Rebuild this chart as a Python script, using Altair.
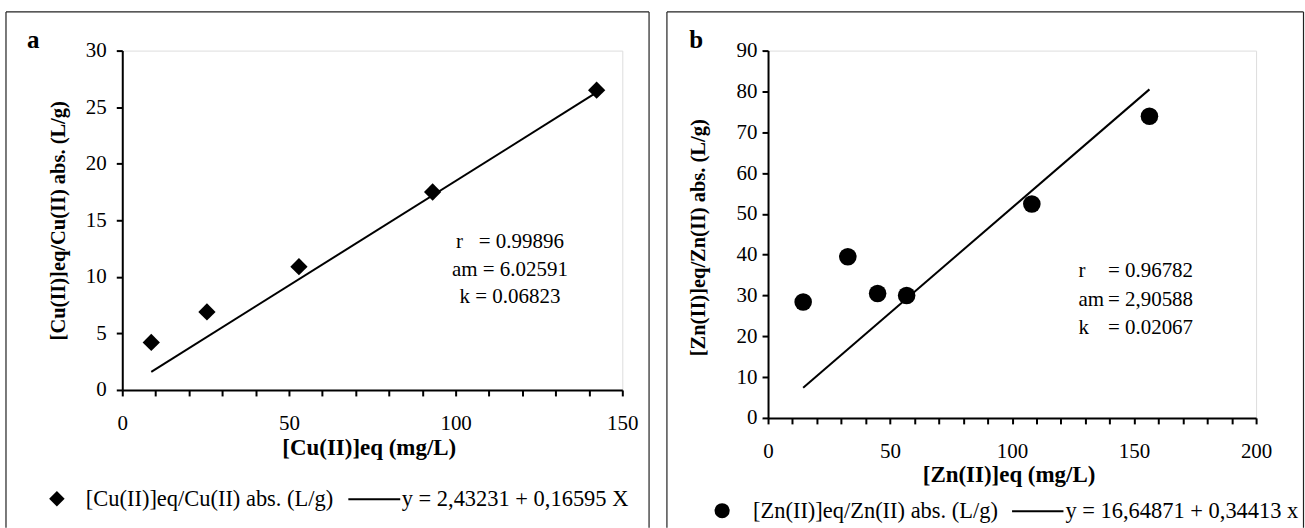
import altair as alt
import pandas as pd

FONT = "Liberation Serif"

# ---------------- data ----------------
# panel a : Cu(II)
cu_x = [8.7, 25.4, 53.0, 93.1, 142.3]
cu_y = [4.2, 6.9, 10.9, 17.5, 26.5]
cu_fit_x = [8.7, 142.3]
cu_fit_y = [1.6, 26.3]
cu_ann = ["r\u00a0\u00a0\u00a0= 0.99896", "am = 6.02591", "k = 0.06823"]
cu_ann_y = [13.05, 10.62, 8.2]

# panel b : Zn(II)
zn_x = [14.4, 32.7, 44.9, 56.8, 108.1, 156.3]
zn_y = [28.4, 39.5, 30.5, 30.0, 52.4, 73.9]
zn_fit_x = [14.4, 156.3]
zn_fit_y = [7.4, 80.5]
zn_ann_keys = ["r", "am", "k"]
zn_ann_vals = ["= 0.96782", "= 2,90588", "= 0.02067"]
zn_ann_y = [36.07, 28.98, 22.13]

cu_xticks = list(range(0, 151, 10))
cu_yticks = list(range(0, 31, 5))
zn_xticks = list(range(0, 201, 10))
zn_yticks = list(range(0, 91, 10))

one = pd.DataFrame({"k": [0]})


def axis_common(**kw):
    base = dict(
        grid=False, domainColor="black", domainWidth=2, tickColor="black",
        tickWidth=2, tickSize=6, labelFont=FONT, labelFontSize=21,
        labelColor="black", titleFont=FONT, titleFontSize=23,
        titleFontWeight="bold", titleColor="black", labelOverlap=False,
        labelFlush=False, labelBound=False,
    )
    base.update(kw)
    return alt.Axis(**base)


def deco(box, letter, letter_x, legend):
    """box = (x1, x2, y1, y2) relative to plot origin"""
    x1, x2, y1, y2 = box
    layers = []
    for (a, b, c, d) in [(x1, x1, y1, y2), (x2, x2, y1, y2), (x1, x2, y1, y1)]:
        layers.append(
            alt.Chart(one).mark_rule(color="#222222", strokeWidth=1.2).encode(
                x=alt.value(a), x2=alt.value(b), y=alt.value(c), y2=alt.value(d)
            )
        )
    layers.append(
        alt.Chart(one).mark_text(text=letter, font=FONT, fontSize=25, fontWeight="bold",
                                 align="left", baseline="alphabetic", color="black").encode(
            x=alt.value(letter_x), y=alt.value(-3)
        )
    )
    sym_x, shape, sym_size, t1x, label1, lx1, lx2, t2x, label2, ly = legend
    layers.append(
        alt.Chart(one).mark_point(shape=shape, filled=True, color="black", opacity=1,
                                  size=sym_size).encode(
            x=alt.value(sym_x), y=alt.value(ly)
        )
    )
    layers.append(
        alt.Chart(one).mark_text(text=label1, font=FONT, fontSize=22.5, align="left",
                                 baseline="middle", color="black").encode(
            x=alt.value(t1x), y=alt.value(ly)
        )
    )
    layers.append(
        alt.Chart(one).mark_rule(color="black", strokeWidth=2).encode(
            x=alt.value(lx1), x2=alt.value(lx2), y=alt.value(ly + 0.5)
        )
    )
    layers.append(
        alt.Chart(one).mark_text(text=label2, font=FONT, fontSize=22.5, align="left",
                                 baseline="middle", color="black").encode(
            x=alt.value(t2x), y=alt.value(ly)
        )
    )
    return layers


# ---------------- panel a ----------------
cu_pts = pd.DataFrame({"x": cu_x, "y": cu_y})
cu_fit = pd.DataFrame({"x": cu_fit_x, "y": cu_fit_y})
cu_ann_df = pd.DataFrame({"t": cu_ann, "y": cu_ann_y, "x": [116.3] * 3})

cu_X = alt.X("x:Q", scale=alt.Scale(domain=[0, 150], nice=False, zero=False),
             axis=axis_common(values=cu_xticks, title="[Cu(II)]eq (mg/L)",
                              labelExpr="datum.value % 50 == 0 ? datum.label : ''",
                              labelPadding=17, titleY=58, titleX=247,
                              titleBaseline="middle"))
cu_Y = alt.Y("y:Q", scale=alt.Scale(domain=[0, 30], nice=False, zero=False),
             axis=axis_common(values=cu_yticks, title="[Cu(II)]eq/Cu(II) abs. (L/g)",
                              labelPadding=10, titleX=-64, titleY=170, titleAngle=270,
                              titleFontSize=20.5,
                              titleAlign="center", titleBaseline="middle"))

cu_line = alt.Chart(cu_fit).mark_line(color="black", strokeWidth=2).encode(x=cu_X, y=cu_Y)
cu_mark = alt.Chart(cu_pts).mark_point(shape="diamond", filled=True, color="black",
                                       opacity=1, size=300).encode(x=cu_X, y=cu_Y)
cu_text = alt.Chart(cu_ann_df).mark_text(font=FONT, fontSize=21, align="center",
                                         baseline="middle", color="black").encode(
    x=cu_X, y=cu_Y, text="t:N")

left = alt.layer(
    cu_line, cu_mark, cu_text,
    *deco((-116.5, 527.8, -38.8, 478.0), "a", -95.5,
          (-65.5, "diamond", 240, -36.5, "[Cu(II)]eq/Cu(II) abs. (L/g)",
           226.5, 278.5, 280, "y = 2,43231 + 0,16595 X", 449))
).properties(width=501, height=340)

# ---------------- panel b ----------------
zn_pts = pd.DataFrame({"x": zn_x, "y": zn_y})
zn_fit = pd.DataFrame({"x": zn_fit_x, "y": zn_fit_y})
zn_ann_df = pd.DataFrame({"k": zn_ann_keys, "v": zn_ann_vals, "y": zn_ann_y,
                          "x": [127.2] * 3, "vx": [139.3] * 3})


def zn_x_enc(field):
    return alt.X(field, scale=alt.Scale(domain=[0, 200], nice=False, zero=False),
                 axis=axis_common(values=zn_xticks, title="[Zn(II)]eq (mg/L)",
                                  labelExpr="datum.value % 50 == 0 ? datum.label : ''",
                                  labelPadding=17, titleY=57, titleX=241,
                                  titleBaseline="middle"))


zn_X = zn_x_enc("x:Q")
zn_Y = alt.Y("y:Q", scale=alt.Scale(domain=[0, 90], nice=False, zero=False),
             axis=axis_common(values=zn_yticks, title="[Zn(II)]eq/Zn(II) abs. (L/g)",
                              labelPadding=5, titleX=-69.5, titleY=187, titleAngle=270,
                              titleFontSize=20.5,
                              titleAlign="center", titleBaseline="middle"))

zn_line = alt.Chart(zn_fit).mark_line(color="black", strokeWidth=2).encode(x=zn_X, y=zn_Y)
zn_mark = alt.Chart(zn_pts).mark_point(shape="circle", filled=True, color="black",
                                       opacity=1, size=310).encode(x=zn_X, y=zn_Y)
zn_keys = alt.Chart(zn_ann_df).mark_text(font=FONT, fontSize=21, align="left",
                                         baseline="middle", color="black").encode(
    x=zn_X, y=zn_Y, text="k:N")
zn_vals = alt.Chart(zn_ann_df).mark_text(font=FONT, fontSize=21, align="left",
                                         baseline="middle", color="black").encode(
    x=zn_x_enc("vx:Q"), y=zn_Y, text="v:N")

right = alt.layer(
    zn_line, zn_mark, zn_keys, zn_vals,
    *deco((-101.3, 536.5, -38.8, 478.0), "b", -79,
          (-46, "circle", 230, -15, "[Zn(II)]eq/Zn(II) abs. (L/g)",
           244.5, 296, 298, "y = 16,64871 + 0,34413 x", 461))
).properties(width=489, height=368)

chart = alt.hconcat(left, right, spacing=15).properties(
    padding={"left": 4.5, "top": 10.2, "right": 0, "bottom": 0},
    background="white",
).configure_view(stroke=None).configure(font=FONT).configure_axis(labelOverlap=False)

chart.save("out.html", embed_options={"renderer": "svg", "actions": False})
